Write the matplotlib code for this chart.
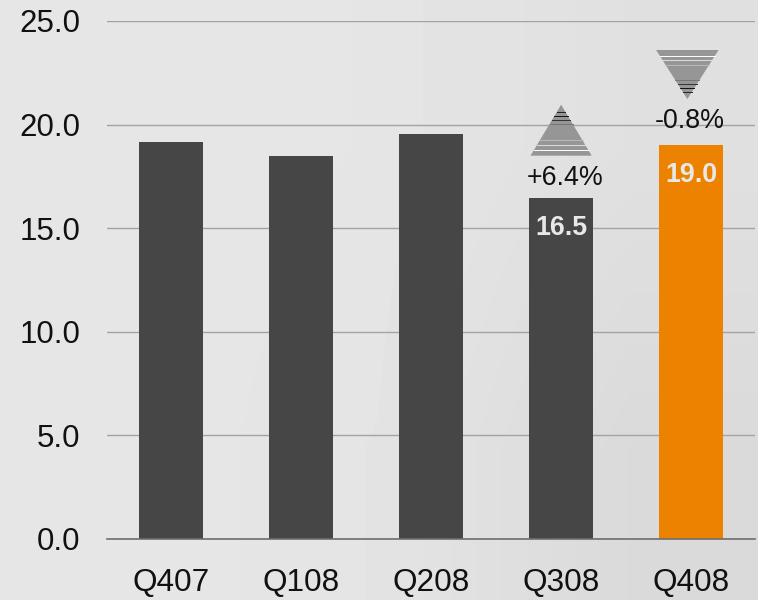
import numpy as np
import matplotlib
matplotlib.use('Agg')
import matplotlib.pyplot as plt
from matplotlib.patches import Polygon

plt.rcParams['font.family'] = ['Liberation Sans', 'DejaVu Sans']

quarters = ['Q407', 'Q108', 'Q208', 'Q308', 'Q408']
revenue = [19.16, 18.5, 19.55, 16.46, 19.0]
bar_colors = ['#464646', '#464646', '#464646', '#464646', '#ec8200']
value_labels = {3: '16.5', 4: '19.0'}
yticks = [0, 5, 10, 15, 20, 25]
changes = {3: '+6.4%', 4: '-0.8%'}

fig = plt.figure(figsize=(7.58, 6), dpi=100)

# background gradient, lighter on the left
bg = fig.add_axes([0, 0, 1, 1], zorder=0)
grad = np.array([[0xe6, 0xe5, 0xe0], [0xe6, 0xe4, 0xda]])
bg.imshow(grad, cmap='gray', vmin=0, vmax=255, aspect='auto', interpolation='bilinear')
bg.axis('off')

ax = fig.add_axes([107 / 758, 61 / 600, 648 / 758, 518 / 600], zorder=1)
ax.patch.set_alpha(0)
ax.bar(range(5), revenue, width=0.495, color=bar_colors, zorder=3)
ax.set_xlim(-0.49, 4.49)
ax.set_ylim(0, 25)
ax.set_yticks(yticks)
ax.set_yticklabels(['%.1f' % t for t in yticks])
ax.set_xticks(range(5))
ax.set_xticklabels(quarters)
ax.tick_params(axis='y', length=0, pad=19, labelsize=22.5, colors='#111111')
ax.tick_params(axis='x', length=0, pad=21, labelsize=22.7, colors='#111111')
ax.grid(axis='y', color='#a3a3a3', linewidth=1.0, zorder=1)
for s in ['top', 'left', 'right']:
    ax.spines[s].set_visible(False)
ax.spines['bottom'].set_color('#6e6e6e')
ax.spines['bottom'].set_linewidth(1.2)
ax.spines['bottom'].set_zorder(4)

for i, lab in value_labels.items():
    ax.text(i, revenue[i] - 1.44, lab, color='#e8e8e8', fontsize=19.3, fontweight='bold',
            ha='center', va='center', zorder=5)

ax.text(3.03, 17.42, changes[3], fontsize=19.3, color='#111111', ha='center', va='center', zorder=5)
ax.text(3.99, 20.19, changes[4], fontsize=19.3, color='#111111', ha='center', va='center', zorder=5)


def arrow(cx, y_apex, y_base, half_w):
    ax.add_patch(Polygon([[cx - half_w, y_base], [cx + half_w, y_base], [cx, y_apex]],
                         closed=True, facecolor='#969696', edgecolor='none', zorder=4))
    # scan lines: dark near the tip, white near the base
    for frac, col in [(0.14, '#222222'), (0.22, '#111111'), (0.3, '#333333'), (0.38, '#777777'),
                      (0.7, '#bbbbbb'), (0.8, '#dddddd'), (0.88, '#ffffff')]:
        y = y_apex + (y_base - y_apex) * frac
        w = half_w * frac
        ax.plot([cx - w, cx + w], [y, y], color=col, linewidth=0.7, zorder=5)


arrow(3.0, 20.96, 18.5, 0.235)
arrow(3.97, 21.23, 23.6, 0.24)

fig.savefig('out.png', dpi=100)
